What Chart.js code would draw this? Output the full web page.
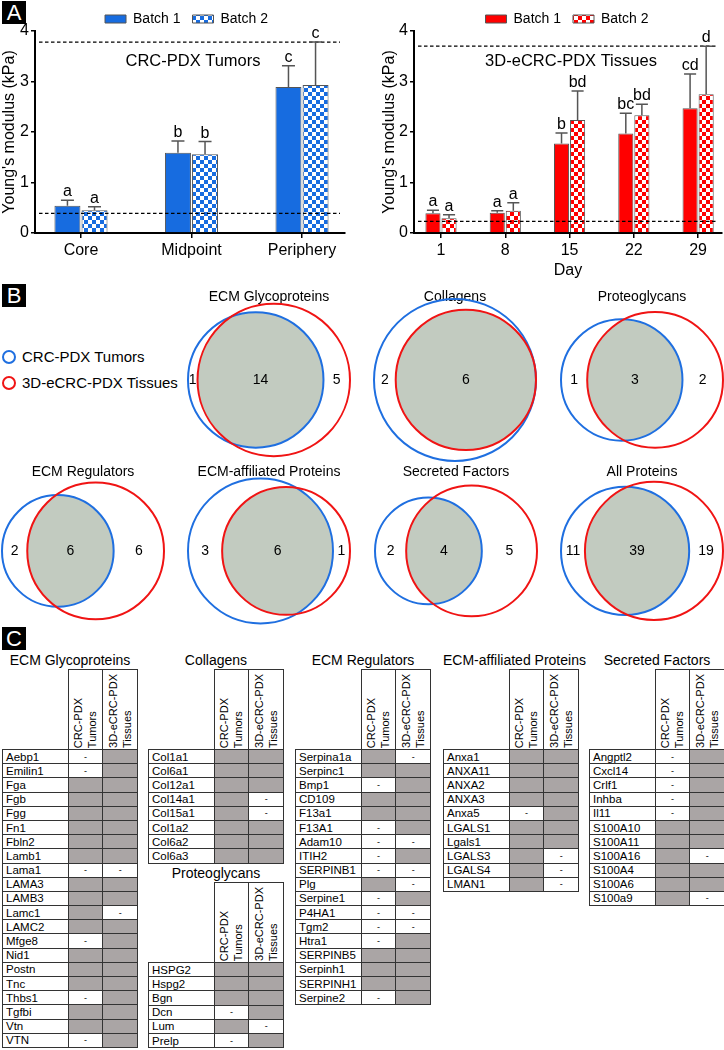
<!DOCTYPE html>
<html>
<head>
<meta charset="utf-8">
<script src="https://cdn.jsdelivr.net/npm/chart.js@4.4.1/dist/chart.umd.min.js"></script>
<style>
  body { margin: 0; width: 724px; height: 1050px; position: relative; overflow: hidden; background: #fff;
         font-family: "Liberation Sans", Arial, sans-serif; color: #000; }
  canvas, .abs { position: absolute; }
  .tag { position: absolute; left: 2px; width: 24px; height: 23px; background: #000; color: #fff;
         font-size: 22px; line-height: 24px; text-align: center; }
  .vleg { position: absolute; left: 2px; font-size: 15px; line-height: 18px; white-space: nowrap; }
  .ring { display: inline-block; width: 10px; height: 10px; border: 2px solid; border-radius: 50%;
          vertical-align: -2px; margin-right: 6px; }
  .ttl { font-size: 14px; height: 18px; line-height: 18px; text-align: center; white-space: nowrap; }
  table { border-collapse: collapse; table-layout: fixed; font-size: 11.5px; }
  td, th { padding: 0; border: 1.5px solid #333; overflow: hidden; white-space: nowrap; }
  th.blank { border: none; }
  th { height: 79px; vertical-align: bottom; font-weight: normal; }
  th div { writing-mode: vertical-rl; transform: rotate(180deg); font-size: 11px; line-height: 13.5px;
           margin: 0 auto 1px auto; text-align: left; }
  tr.r { height: 14.2px; }
  td.n { padding-left: 3px; line-height: 12px; }
  td.g { background: #aaa5a5; }
  td.d { text-align: center; font-size: 9px; line-height: 12px; }
</style>
</head>
<body>
<div class="tag" style="top:1px">A</div>
<div class="tag" style="top:284px">B</div>
<div class="tag" style="top:627px">C</div>

<canvas id="tumorChart" width="362" height="275" style="left:0;top:0"></canvas>
<canvas id="tissueChart" width="362" height="280" style="left:362px;top:0"></canvas>

<div class="vleg" style="top:348px"><span class="ring" style="border-color:#1f6fe0"></span>CRC-PDX Tumors</div>
<div class="vleg" style="top:374px"><span class="ring" style="border-color:#f01414"></span>3D-eCRC-PDX Tissues</div>

<div id="tables"></div>

<script>
Chart.defaults.font.family = '"Liberation Sans", Arial, sans-serif';
Chart.defaults.color = '#000';

// ---- panel A data ----
const tumorSites = ['Core', 'Midpoint', 'Periphery'];
const tumorBatch1 = [0.54, 1.59, 2.89];
const tumorBatch1Sd = [0.11, 0.23, 0.42];
const tumorBatch2 = [0.45, 1.56, 2.93];
const tumorBatch2Sd = [0.07, 0.25, 0.85];
const tumorLetters1 = ['a', 'b', 'c'];
const tumorLetters2 = ['a', 'b', 'c'];
const tumorRefLines = [3.78, 0.39];

const days = [1, 8, 15, 22, 29];
const tissueBatch1 = [0.39, 0.40, 1.77, 1.97, 2.47];
const tissueBatch1Sd = [0.06, 0.04, 0.21, 0.40, 0.68];
const tissueBatch2 = [0.29, 0.44, 2.24, 2.33, 2.75];
const tissueBatch2Sd = [0.07, 0.16, 0.57, 0.22, 0.95];
const tissueLetters1 = ['a', 'a', 'b', 'bc', 'cd'];
const tissueLetters2 = ['a', 'a', 'bd', 'bd', 'd'];
const tissueRefLines = [3.70, 0.23];

// ---- panel B data ----
const vennTitles = ['ECM Glycoproteins', 'Collagens', 'Proteoglycans', 'ECM Regulators',
                    'ECM-affiliated Proteins', 'Secreted Factors', 'All Proteins'];
const vennTumorOnly = [1, 2, 1, 2, 3, 2, 11];
const vennShared = [14, 6, 3, 6, 6, 4, 39];
const vennTissueOnly = [5, 0, 2, 6, 1, 5, 19];

// ---- panel C data (1 = detected, 0 = not detected) ----
const glycoNames = ['Aebp1','Emilin1','Fga','Fgb','Fgg','Fn1','Fbln2','Lamb1','Lama1','LAMA3','LAMB3',
                    'Lamc1','LAMC2','Mfge8','Nid1','Postn','Tnc','Thbs1','Tgfbi','Vtn','VTN'];
const glycoTumors  = [0,0,1,1,1,1,1,1,0,1,1,1,1,0,1,1,1,0,1,1,0];
const glycoTissues = [1,1,1,1,1,1,1,1,0,1,1,0,1,1,1,1,1,1,1,1,1];
const collagenNames = ['Col1a1','Col6a1','Col12a1','Col14a1','Col15a1','Col1a2','Col6a2','Col6a3'];
const collagenTumors  = [1,1,1,1,1,1,1,1];
const collagenTissues = [1,1,1,0,0,1,1,1];
const proteoNames = ['HSPG2','Hspg2','Bgn','Dcn','Lum','Prelp'];
const proteoTumors  = [1,1,1,0,1,0];
const proteoTissues = [1,1,1,1,0,1];
const regulatorNames = ['Serpina1a','Serpinc1','Bmp1','CD109','F13a1','F13A1','Adam10','ITIH2','SERPINB1',
                        'Plg','Serpine1','P4HA1','Tgm2','Htra1','SERPINB5','Serpinh1','SERPINH1','Serpine2'];
const regulatorTumors  = [1,1,0,1,1,0,0,0,0,1,0,0,0,0,1,1,1,0];
const regulatorTissues = [0,1,1,1,1,1,0,1,0,0,1,0,0,1,1,1,1,1];
const affiliatedNames = ['Anxa1','ANXA11','ANXA2','ANXA3','Anxa5','LGALS1','Lgals1','LGALS3','LGALS4','LMAN1'];
const affiliatedTumors  = [1,1,1,1,0,1,1,1,1,1];
const affiliatedTissues = [1,1,1,1,1,1,1,0,0,0];
const secretedNames = ['Angptl2','Cxcl14','Crlf1','Inhba','Il11','S100A10','S100A11','S100A16','S100A4','S100A6','S100a9'];
const secretedTumors  = [0,0,0,0,0,1,1,1,1,1,1];
const secretedTissues = [1,1,1,1,1,1,1,0,1,1,0];

// ---------- panel A ----------
function checker(color, size) {
  const c = document.createElement('canvas');
  c.width = c.height = size * 2;
  const g = c.getContext('2d');
  g.fillStyle = '#fff';
  g.fillRect(0, 0, size * 2, size * 2);
  g.fillStyle = color;
  g.fillRect(0, 0, size, size);
  g.fillRect(size, size, size, size);
  return g.createPattern(c, 'repeat');
}

const shiftLegend = (dx, dy) => ({
  id: 'shiftLegend',
  afterLayout(chart) {
    const l = chart.legend;
    l.left += dx; l.right += dx; l.top += dy; l.bottom += dy;
  }
});

const errorBars = (sds, letters, refLines, title, capRatio) => ({
  id: 'errorBars',
  afterDatasetsDraw(chart) {
    const { ctx, chartArea, scales: { y } } = chart;
    ctx.save();
    // dashed reference lines
    ctx.strokeStyle = '#000';
    ctx.lineWidth = 1.3;
    ctx.setLineDash([3.5, 2.5]);
    refLines.forEach(v => {
      const py = y.getPixelForValue(v);
      ctx.beginPath();
      ctx.moveTo(chartArea.left + 4, py);
      ctx.lineTo(chartArea.right - 5, py);
      ctx.stroke();
    });
    ctx.setLineDash([]);
    ctx.strokeStyle = '#555';
    ctx.lineWidth = 1.5;
    ctx.fillStyle = '#000';
    ctx.font = '16px "Liberation Sans", Arial, sans-serif';
    ctx.textAlign = 'center';
    ctx.textBaseline = 'alphabetic';
    chart.data.datasets.forEach((ds, di) => {
      chart.getDatasetMeta(di).data.forEach((bar, i) => {
        const top = y.getPixelForValue(ds.data[i].y + sds[di][i]);
        const half = bar.width * capRatio;
        ctx.beginPath();
        ctx.moveTo(bar.x, bar.y);
        ctx.lineTo(bar.x, top);
        ctx.moveTo(bar.x - half, top);
        ctx.lineTo(bar.x + half, top);
        ctx.stroke();
        ctx.fillText(letters[di][i], bar.x, top - 4);
      });
    });
    ctx.font = '16.5px "Liberation Sans", Arial, sans-serif';
    ctx.textBaseline = 'middle';
    ctx.fillText(title, (chartArea.left + chartArea.right) / 2 + 3, y.getPixelForValue(3.4));
    ctx.restore();
  }
});

function barChart(id, cfg) {
  const ds = (label, vals, bg) => ({
    label,
    data: cfg.xs.map((x, i) => ({ x, y: vals[i] })),
    backgroundColor: bg,
    borderColor: '#555',
    borderWidth: 1,
    categoryPercentage: cfg.catPct,
    barPercentage: cfg.barPct
  });
  return new Chart(document.getElementById(id), {
    type: 'bar',
    data: {
      datasets: [
        ds('Batch 1', cfg.b1, cfg.color),
        ds('Batch 2', cfg.b2, checker(cfg.color, 4))
      ]
    },
    options: {
      responsive: false,
      animation: false,
      events: [],
      layout: { padding: { left: cfg.padLeft, right: cfg.padRight, top: 0, bottom: 0 } },
      plugins: {
        tooltip: { enabled: false },
        legend: {
          position: 'top',
          maxHeight: 31,
          labels: { boxWidth: 21, boxHeight: 8, padding: 12, font: { size: 14 }, color: '#000' }
        }
      },
      scales: {
        x: {
          type: 'linear',
          offset: false,
          min: cfg.xMin,
          max: cfg.xMax,
          afterBuildTicks: s => { s.ticks = cfg.xs.map(v => ({ value: v })); },
          afterFit: s => { s.height = cfg.xHeight; },
          ticks: { callback: (v, i) => cfg.xLabels[i], font: { size: 16 }, color: '#000',
                   padding: 3, maxRotation: 0, autoSkip: false },
          grid: { drawOnChartArea: false, offset: false, tickLength: 5, color: '#000', lineWidth: 1.5 },
          border: { color: '#000', width: 2 },
          title: { display: !!cfg.xTitle, text: cfg.xTitle, font: { size: 16 }, color: '#000', padding: 0 }
        },
        y: {
          min: 0,
          max: 4,
          afterFit: s => { s.width = cfg.yWidth; },
          ticks: { stepSize: 1, font: { size: 16 }, color: '#000', padding: 2 },
          grid: { drawOnChartArea: false, tickLength: 4, color: '#000', lineWidth: 1.5 },
          border: { color: '#000', width: 2 },
          title: { display: true, text: "Young's modulus (kPa)", font: { size: 16 }, color: '#000', padding: 0 }
        }
      }
    },
    plugins: [
      errorBars(cfg.sds, cfg.letters, cfg.refLines, cfg.title, cfg.capRatio),
      shiftLegend(cfg.legendDx, cfg.legendDy)
    ]
  });
}

barChart('tumorChart', {
  xs: [0, 1, 2], xLabels: tumorSites, xMin: -0.416, xMax: 2.389,
  b1: tumorBatch1, b2: tumorBatch2, sds: [tumorBatch1Sd, tumorBatch2Sd],
  letters: [tumorLetters1, tumorLetters2], refLines: tumorRefLines,
  title: 'CRC-PDX Tumors', color: '#176ce0',
  catPct: 0.49, barPct: 0.96, capRatio: 0.25,
  padLeft: 0, padRight: 17, yWidth: 35, xHeight: 42, legendDx: 14, legendDy: 0
});

barChart('tissueChart', {
  xs: days, xLabels: days.map(String), xMin: -1.94, xMax: 31.6, xTitle: 'Day',
  b1: tissueBatch1, b2: tissueBatch2, sds: [tissueBatch1Sd, tissueBatch2Sd],
  letters: [tissueLetters1, tissueLetters2], refLines: tissueRefLines,
  title: '3D-eCRC-PDX Tissues', color: '#ff0000',
  catPct: 0.5, barPct: 0.94, capRatio: 0.4,
  padLeft: 18, padRight: 2, yWidth: 34, xHeight: 47, legendDx: 16, legendDy: 0
});

// ---------- panel B ----------
function lensArea(r1, r2, d) {
  if (d >= r1 + r2) return 0;
  if (d <= Math.abs(r1 - r2)) return Math.PI * Math.min(r1, r2) ** 2;
  const a = r1 * r1 * Math.acos((d * d + r1 * r1 - r2 * r2) / (2 * d * r1));
  const b = r2 * r2 * Math.acos((d * d + r2 * r2 - r1 * r1) / (2 * d * r2));
  const c = 0.5 * Math.sqrt((-d + r1 + r2) * (d + r1 - r2) * (d - r1 + r2) * (d + r1 + r2));
  return a + b - c;
}
function solveDistance(r1, r2, area) {
  let lo = Math.abs(r1 - r2), hi = r1 + r2;
  for (let k = 0; k < 60; k++) {
    const mid = (lo + hi) / 2;
    if (lensArea(r1, r2, mid) > area) lo = mid; else hi = mid;
  }
  return (lo + hi) / 2;
}

const vennCells = [[184, 285, 185, 20], [370, 285, 185, 20], [557, 285, 185, 20],
                   [-2, 460, 165, 8], [184, 460, 165, 8], [371, 460, 165, 8], [557, 460, 165, 8]];

vennTitles.forEach((title, i) => {
  const nA = vennTumorOnly[i] + vennShared[i];
  const nB = vennTissueOnly[i] + vennShared[i];
  const rA = Math.sqrt(nA / Math.PI), rB = Math.sqrt(nB / Math.PI);
  const d = solveDistance(rA, rB, vennShared[i]);
  const left = Math.min(-rA, d - rB), right = Math.max(rA, d + rB);
  const span = right - left, pad = span * 4 / 162;
  const [cx, cy, h, padBottom] = vennCells[i];

  const cv = document.createElement('canvas');
  cv.width = 170; cv.height = h;
  cv.style.left = cx + 'px'; cv.style.top = cy + 'px';
  document.body.appendChild(cv);

  new Chart(cv, {
    type: 'scatter',
    data: { datasets: [
      { label: 'CRC-PDX Tumors', data: [{ x: 0, y: 0 }], pointRadius: 0 },
      { label: '3D-eCRC-PDX Tissues', data: [{ x: d, y: 0 }], pointRadius: 0 }
    ] },
    options: {
      responsive: false, animation: false, events: [],
      layout: { padding: { left: 0, right: 0, top: 0, bottom: padBottom } },
      plugins: {
        legend: { display: false }, tooltip: { enabled: false },
        title: { display: true, text: title, font: { size: 14, weight: 'normal' }, color: '#000',
                 padding: { top: 4, bottom: 4 } }
      },
      scales: {
        x: { display: false, min: left - pad, max: right + pad },
        y: { display: false, min: -1, max: 1 }
      }
    },
    plugins: [{
      id: 'venn',
      afterDatasetsDraw(chart) {
        const { ctx, scales: { x } } = chart;
        const a = chart.getDatasetMeta(0).data[0], b = chart.getDatasetMeta(1).data[0];
        const k = x.getPixelForValue(1) - x.getPixelForValue(0);
        const pa = rA * k, pb = rB * k;
        ctx.save();
        ctx.beginPath(); ctx.arc(a.x, a.y, pa, 0, Math.PI * 2); ctx.clip();
        ctx.beginPath(); ctx.arc(b.x, b.y, pb, 0, Math.PI * 2);
        ctx.fillStyle = '#c2cbc0'; ctx.fill();
        ctx.restore();
        ctx.save();
        ctx.lineWidth = 2;
        ctx.strokeStyle = '#1f6fe0';
        ctx.beginPath(); ctx.arc(a.x, a.y, pa, 0, Math.PI * 2); ctx.stroke();
        ctx.strokeStyle = '#f01414';
        ctx.beginPath(); ctx.arc(b.x, b.y, pb, 0, Math.PI * 2); ctx.stroke();
        const lA = a.x - pa, rAx = a.x + pa, lB = b.x - pb, rBx = b.x + pb;
        ctx.fillStyle = '#000';
        ctx.font = '14px "Liberation Sans", Arial, sans-serif';
        ctx.textAlign = 'center'; ctx.textBaseline = 'middle';
        const put = (n, px) => { if (n > 0) ctx.fillText(String(n), px, a.y); };
        put(vennTumorOnly[i], (lA + lB) / 2);
        put(vennShared[i], (Math.max(lA, lB) + Math.min(rAx, rBx)) / 2);
        put(vennTissueOnly[i], (rAx + rBx) / 2);
        ctx.restore();
      }
    }]
  });
});

// ---------- panel C ----------
function buildTable(title, names, inTumors, inTissues, left, top) {
  const wrap = document.createElement('div');
  wrap.className = 'abs';
  wrap.style.left = left + 'px';
  wrap.style.top = top + 'px';
  wrap.style.width = '136px';
  let html = '<div class="ttl">' + title + '</div>';
  html += '<table style="width:135px"><colgroup><col style="width:65.5px"><col style="width:34.75px"><col style="width:34.75px"></colgroup>';
  html += '<tr><th class="blank"></th><th><div>CRC-PDX<br>Tumors</div></th><th><div>3D-eCRC-PDX<br>Tissues</div></th></tr>';
  const cell = v => v ? '<td class="g"></td>' : '<td class="d">-</td>';
  names.forEach((n, i) => {
    html += '<tr class="r"><td class="n">' + n + '</td>' + cell(inTumors[i]) + cell(inTissues[i]) + '</tr>';
  });
  html += '</table>';
  wrap.innerHTML = html;
  document.getElementById('tables').appendChild(wrap);
}

buildTable('ECM Glycoproteins', glycoNames, glycoTumors, glycoTissues, 2, 651);
buildTable('Collagens', collagenNames, collagenTumors, collagenTissues, 148, 651);
buildTable('Proteoglycans', proteoNames, proteoTumors, proteoTissues, 148, 864);
buildTable('ECM Regulators', regulatorNames, regulatorTumors, regulatorTissues, 295, 651);
buildTable('ECM-affiliated Proteins', affiliatedNames, affiliatedTumors, affiliatedTissues, 443, 651);
buildTable('Secreted Factors', secretedNames, secretedTumors, secretedTissues, 589, 651);
</script>
</body>
</html>
